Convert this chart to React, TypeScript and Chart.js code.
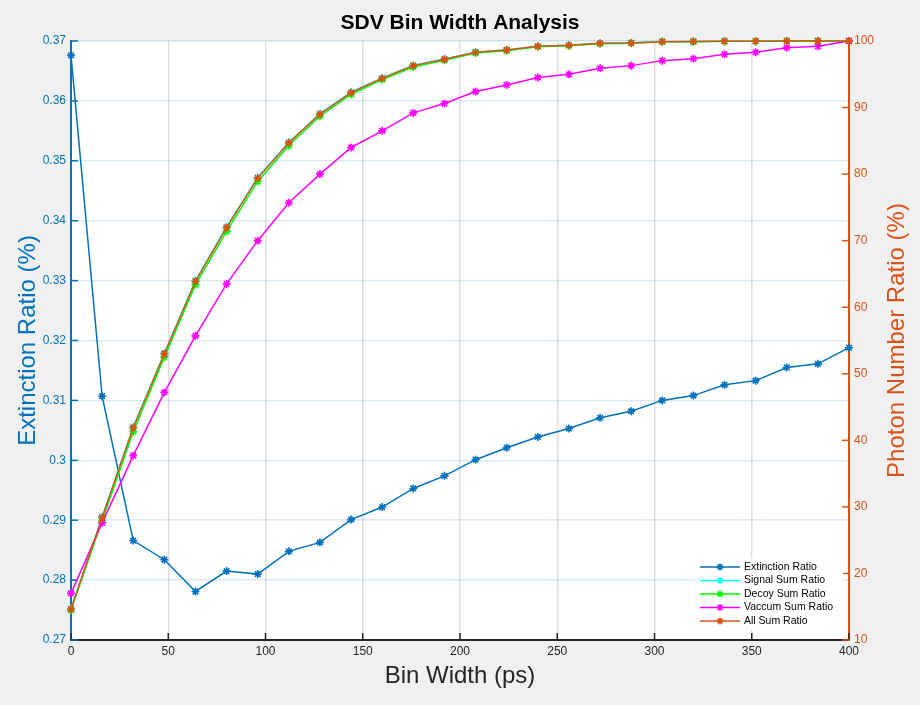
import { useEffect, useRef } from "react"
import { Chart, registerables } from "chart.js"

Chart.register(...registerables)

// bin width in ps
const binWidths = [
  0, 16, 32, 48, 64, 80, 96, 112, 128, 144, 160, 176, 192, 208, 224, 240, 256,
  272, 288, 304, 320, 336, 352, 368, 384, 400,
]

// left axis (%)
const extinctionRatio = [
  0.3676, 0.3107, 0.2866, 0.2834, 0.2781, 0.2815, 0.281, 0.2848, 0.2863,
  0.2901, 0.2922, 0.2953, 0.2974, 0.3001, 0.3021, 0.3039, 0.3053, 0.3071,
  0.3082, 0.31, 0.3108, 0.3126, 0.3133, 0.3155, 0.3161, 0.3188,
]

// right axis (%)
const signalSumRatio = [
  14.7, 28.5, 42.0, 53.1, 64.0, 72.1, 79.5, 84.8, 89.1, 92.3, 94.45, 96.35,
  97.3, 98.32, 98.68, 99.22, 99.37, 99.66, 99.72, 99.9, 99.93, 99.97, 99.98,
  100, 100, 100,
]
const decoySumRatio = [
  14.5, 27.9, 41.3, 52.5, 63.4, 71.4, 78.9, 84.3, 88.7, 92.0, 94.2, 96.1,
  97.1, 98.2, 98.55, 99.15, 99.3, 99.6, 99.68, 99.88, 99.9, 99.96, 99.98, 100,
  100, 100,
]
const vaccumSumRatio = [
  17.0, 27.6, 37.7, 47.2, 55.7, 63.5, 70.0, 75.7, 80.0, 84.0, 86.5, 89.2,
  90.6, 92.4, 93.4, 94.5, 95.0, 95.9, 96.3, 97.05, 97.35, 98.0, 98.3, 99.0,
  99.2, 100,
]
const allSumRatio = [
  14.62, 28.4, 41.9, 53.0, 63.9, 71.95, 79.4, 84.7, 89.0, 92.25, 94.4, 96.3,
  97.25, 98.3, 98.65, 99.2, 99.35, 99.65, 99.7, 99.9, 99.92, 99.97, 99.98,
  100, 100, 100,
]

const FONT = '"Liberation Sans", Arial, Helvetica, sans-serif'
const BLUE = "#0072BD"
const ORANGE = "#D95319"
const AXIS_GRAY = "#262626"

const toPoints = (ys: number[]) => binWidths.map((x, i) => ({ x, y: ys[i] }))

function drawAsterisk(ctx: CanvasRenderingContext2D, x: number, y: number, r: number) {
  ctx.beginPath()
  for (let k = 0; k < 4; k++) {
    const a = (k * Math.PI) / 4
    ctx.moveTo(x - r * Math.cos(a), y - r * Math.sin(a))
    ctx.lineTo(x + r * Math.cos(a), y + r * Math.sin(a))
  }
  ctx.stroke()
}

// white plot area, inward tick marks, rotated right title, legend
const matlabLook = {
  id: "matlabLook",
  beforeDraw(chart: any) {
    const { ctx, chartArea: a } = chart
    ctx.save()
    ctx.fillStyle = "#ffffff"
    ctx.fillRect(a.left, a.top, a.right - a.left, a.bottom - a.top)
    ctx.restore()
  },
  beforeDatasetsDraw(chart: any) {
    const { ctx, chartArea: a, scales } = chart
    const len = 7
    ctx.save()
    ctx.lineWidth = 1.5
    ctx.strokeStyle = AXIS_GRAY
    for (const t of scales.x.ticks) {
      const px = scales.x.getPixelForValue(t.value)
      ctx.beginPath()
      ctx.moveTo(px, a.bottom)
      ctx.lineTo(px, a.bottom - len)
      ctx.stroke()
    }
    ctx.strokeStyle = BLUE
    for (const t of scales.y.ticks) {
      const py = scales.y.getPixelForValue(t.value)
      ctx.beginPath()
      ctx.moveTo(a.left, py)
      ctx.lineTo(a.left + len, py)
      ctx.stroke()
    }
    ctx.strokeStyle = ORANGE
    for (const t of scales.y1.ticks) {
      const py = scales.y1.getPixelForValue(t.value)
      ctx.beginPath()
      ctx.moveTo(a.right, py)
      ctx.lineTo(a.right - len, py)
      ctx.stroke()
    }
    ctx.restore()
  },
  afterDraw(chart: any) {
    const { ctx, chartArea: a } = chart
    ctx.save()
    // right axis title reads bottom to top
    ctx.translate(897, (a.top + a.bottom) / 2)
    ctx.rotate(-Math.PI / 2)
    ctx.font = `24px ${FONT}`
    ctx.fillStyle = ORANGE
    ctx.textAlign = "center"
    ctx.textBaseline = "middle"
    ctx.fillText("Photon Number Ratio (%)", 0, 0)
    ctx.restore()

    // legend, bottom right inside the axes
    const boxRight = a.right - 6
    const boxLeft = boxRight - 146
    const boxBottom = a.bottom - 10
    const rowH = 13.5
    const items = chart.data.datasets
    const boxTop = boxBottom - rowH * items.length - 4
    ctx.save()
    ctx.fillStyle = "#ffffff"
    ctx.fillRect(boxLeft, boxTop, boxRight - boxLeft, boxBottom - boxTop)
    ctx.font = `10.5px ${FONT}`
    ctx.textBaseline = "middle"
    ctx.textAlign = "left"
    items.forEach((ds: any, i: number) => {
      const y = boxTop + 8.5 + i * rowH
      ctx.strokeStyle = ds.borderColor
      ctx.lineWidth = 1.5
      ctx.beginPath()
      ctx.moveTo(boxLeft + 3, y)
      ctx.lineTo(boxLeft + 43, y)
      ctx.stroke()
      drawAsterisk(ctx, boxLeft + 23, y, 3.5)
      ctx.fillStyle = "#000000"
      ctx.fillText(ds.label, boxLeft + 47, y)
    })
    ctx.restore()
  },
}

function series(label: string, ys: number[], color: string, axis: string, order: number) {
  return {
    label,
    data: toPoints(ys),
    yAxisID: axis,
    order,
    clip: false as const,
    borderColor: color,
    backgroundColor: color,
    borderWidth: 1.5,
    pointStyle: "star" as const,
    pointRadius: 4,
    pointHoverRadius: 4,
    pointBorderWidth: 1.6,
    pointBorderColor: color,
    tension: 0,
  }
}

function SdvBinWidthChart() {
  const chartRef = useRef<HTMLCanvasElement>(null)
  const chartInstance = useRef<Chart | null>(null)

  useEffect(() => {
    if (!chartRef.current) return
    if (chartInstance.current) chartInstance.current.destroy()
    const ctx = chartRef.current.getContext("2d")
    if (!ctx) return

    chartInstance.current = new Chart(ctx, {
      type: "line",
      data: {
        datasets: [
          series("Extinction Ratio", extinctionRatio, BLUE, "y", 4),
          series("Signal Sum Ratio", signalSumRatio, "#00FFFF", "y1", 3),
          series("Decoy Sum Ratio", decoySumRatio, "#00FF00", "y1", 2),
          series("Vaccum Sum Ratio", vaccumSumRatio, "#FF00FF", "y1", 1),
          series("All Sum Ratio", allSumRatio, ORANGE, "y1", 0),
        ],
      },
      options: {
        responsive: true,
        maintainAspectRatio: false,
        animation: false,
        layout: { padding: 0 },
        events: [],
        plugins: {
          legend: { display: false },
          tooltip: { enabled: false },
          title: {
            display: true,
            text: "SDV Bin Width Analysis",
            color: "#000000",
            font: { family: FONT, size: 21, weight: "bold", lineHeight: 1.2 },
            padding: { top: 11, bottom: 4.8 },
          },
        },
        scales: {
          x: {
            type: "linear",
            min: 0,
            max: 400,
            afterFit: (s: any) => {
              s.height = 65
            },
            ticks: {
              stepSize: 50,
              padding: 4,
              color: AXIS_GRAY,
              font: { family: FONT, size: 12 },
              maxRotation: 0,
            },
            grid: {
              color: "rgba(38,38,38,0.15)",
              lineWidth: 1.5,
              drawTicks: false,
            },
            border: { display: true, color: AXIS_GRAY, width: 2 },
            title: {
              display: true,
              text: "Bin Width (ps)",
              color: AXIS_GRAY,
              font: { family: FONT, size: 24, lineHeight: 1.2 },
              padding: { top: 0, bottom: 14.6 },
            },
          },
          y: {
            type: "linear",
            position: "left",
            min: 0.27,
            max: 0.37,
            afterFit: (s: any) => {
              s.width = 71
            },
            ticks: {
              stepSize: 0.01,
              padding: 5,
              color: BLUE,
              font: { family: FONT, size: 12 },
              callback: (v: any) => String(Math.round(Number(v) * 100) / 100),
            },
            grid: {
              color: "rgba(0,114,189,0.15)",
              lineWidth: 1.5,
              drawTicks: false,
            },
            border: { display: true, color: BLUE, width: 2 },
            title: {
              display: true,
              text: "Extinction Ratio (%)",
              color: BLUE,
              font: { family: FONT, size: 24, lineHeight: 1.2 },
              padding: { top: 14, bottom: 0 },
            },
          },
          y1: {
            type: "linear",
            position: "right",
            min: 10,
            max: 100,
            afterFit: (s: any) => {
              s.width = 71
            },
            ticks: {
              stepSize: 10,
              padding: 5,
              color: ORANGE,
              font: { family: FONT, size: 12 },
            },
            grid: { display: false, drawTicks: false },
            border: { display: true, color: ORANGE, width: 2 },
          },
        },
      },
      plugins: [matlabLook],
    })

    return () => {
      if (chartInstance.current) {
        chartInstance.current.destroy()
        chartInstance.current = null
      }
    }
  }, [])

  return <canvas ref={chartRef} />
}

export default function App() {
  return (
    <div
      style={{
        position: "absolute",
        left: 0,
        top: 0,
        width: 920,
        height: 705,
        background: "#f0f0f0",
      }}
    >
      <SdvBinWidthChart />
    </div>
  )
}
